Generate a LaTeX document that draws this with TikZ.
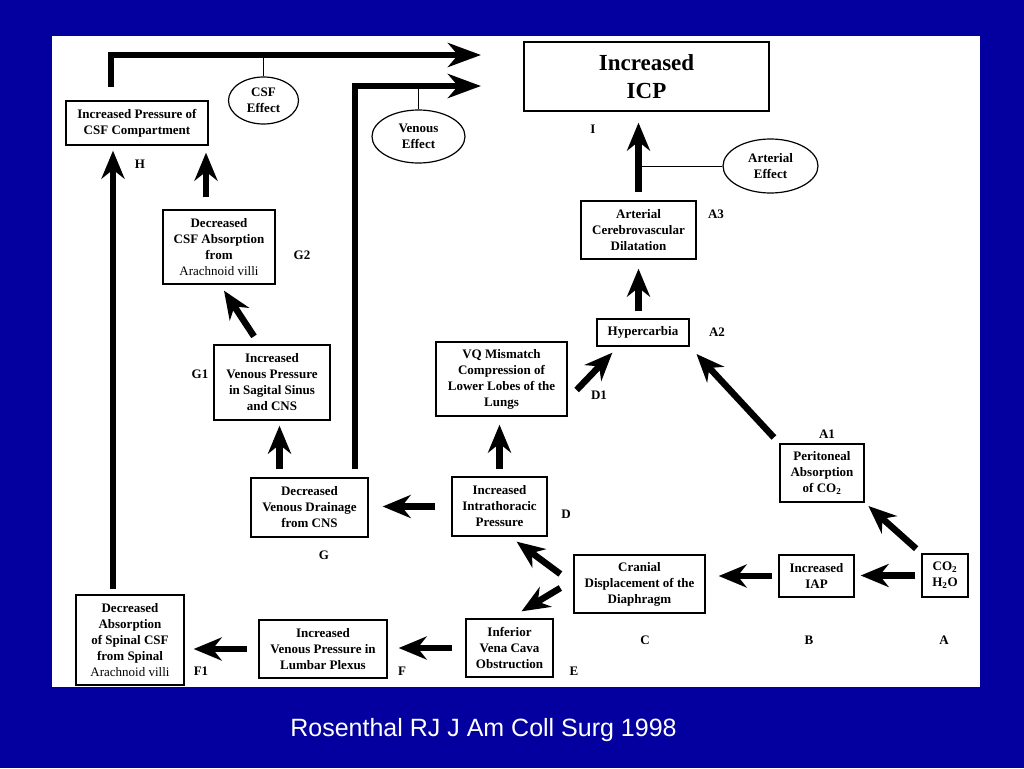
\documentclass[tikz,border=0pt]{standalone}
\usepackage{fontspec}
\setmainfont{Liberation Serif}
\newfontfamily\capfont{Liberation Sans}
\usetikzlibrary{arrows.meta,shapes.geometric}
\definecolor{slideblue}{RGB}{4,0,160}
\tikzset{
  box/.style={draw, line width=1.3pt, align=center, inner sep=2pt, font=\bfseries\fontsize{13}{16}\selectfont},
  effect/.style={draw, ellipse, line width=1.2pt, align=center, inner sep=1pt, font=\bfseries\fontsize{13}{16}\selectfont},
  tag/.style={font=\bfseries\fontsize{13}{16}\selectfont},
  fat/.style={line width=6.5pt, -{Stealth[length=28pt,width=23pt,inset=9pt]}},
  longfat/.style={line width=6.5pt, -{Stealth[length=33pt,width=24pt,inset=10pt]}},
}
\begin{document}
\begin{tikzpicture}[x=1pt,y=-1pt]
  % slide and white panel
  \fill[slideblue] (0,0) rectangle (1024,768);
  \fill[white] (52,36) rectangle (980,687);

  % boxes
  \node[box, minimum width=245pt, minimum height=69pt, font=\bfseries\fontsize{23}{28}\selectfont] (I) at (646.5,76.5) {Increased\\ICP};
  \node[box, minimum width=142pt, minimum height=44pt] (H) at (137,123) {Increased Pressure of\\CSF Compartment};
  \node[box, minimum width=112pt, minimum height=74pt] (G2) at (219,247) {Decreased\\CSF Absorption\\from\\\mdseries Arachnoid villi};
  \node[box, minimum width=116pt, minimum height=75pt] (G1) at (272,382.5) {Increased\\Venous Pressure\\in Sagital Sinus\\and CNS};
  \node[box, minimum width=117pt, minimum height=59pt] (G) at (309.5,507.5) {Decreased\\Venous Drainage\\from CNS};
  \node[box, minimum width=95pt, minimum height=59pt] (D) at (499.5,506.5) {Increased\\Intrathoracic\\Pressure};
  \node[box, minimum width=131pt, minimum height=74pt] (VQ) at (501.5,379) {VQ Mismatch\\Compression of\\Lower Lobes of the\\Lungs};
  \node[box, minimum width=92pt, minimum height=27pt] (hyper) at (643,332.5) {Hypercarbia};
  \node[box, minimum width=115pt, minimum height=58pt] (A3) at (638.5,230) {Arterial\\Cerebrovascular\\Dilatation};
  \node[box, minimum width=84pt, minimum height=58pt] (A1) at (822,473) {Peritoneal\\Absorption\\of CO\textsubscript{2}};
  \node[box, minimum width=46pt, minimum height=43pt, inner sep=1pt] (A) at (945,575.5) {CO\textsubscript{2}\\H\textsubscript{2}O};
  \node[box, minimum width=75pt, minimum height=42pt] (B) at (816.5,576) {Increased\\IAP};
  \node[box, minimum width=131pt, minimum height=58pt] (C) at (639.5,584) {Cranial\\Displacement of the\\Diaphragm};
  \node[box, minimum width=87pt, minimum height=58pt] (E) at (509.5,648) {Inferior\\Vena Cava\\Obstruction};
  \node[box, minimum width=128pt, minimum height=58pt] (F) at (323,649) {Increased\\Venous Pressure in\\Lumbar Plexus};
  \node[box, minimum width=108pt, minimum height=90pt] (F1) at (130,640) {Decreased\\Absorption\\of Spinal CSF\\from Spinal\\\mdseries Arachnoid villi};

  % effect ellipses
  \node[effect, minimum width=70pt, minimum height=47pt] (csf) at (263.5,100.5) {CSF\\Effect};
  \node[effect, minimum width=93pt, minimum height=53pt] (ven) at (418.5,136.5) {Venous\\Effect};
  \node[effect, minimum width=95pt, minimum height=54pt] (art) at (770.5,166) {Arterial\\Effect};

  % step letters
  \node[tag] (tI) at (593,129) {I};
  \node[tag] (tH) at (140,164) {H};
  \node[tag] (tG2) at (302,255) {G2};
  \node[tag] (tG1) at (200,374) {G1};
  \node[tag] (tG) at (324,555) {G};
  \node[tag] (tD) at (566,514) {D};
  \node[tag] (tD1) at (599,395) {D1};
  \node[tag] (tA2) at (717,332) {A2};
  \node[tag] (tA3) at (716,214) {A3};
  \node[tag] (tA1) at (827,434) {A1};
  \node[tag] (tA) at (944,640) {A};
  \node[tag] (tB) at (809,640) {B};
  \node[tag] (tC) at (645,640) {C};
  \node[tag] (tE) at (574,671) {E};
  \node[tag] (tF) at (402,671) {F};
  \node[tag] (tF1) at (201,671) {F1};

  % long arrows into ICP
  \coordinate (csftip) at (481,55);
  \coordinate (ventip) at (481,86);
  \draw[longfat, shorten <=13pt] ([xshift=-26pt]H.north) |- (csftip);
  \draw[longfat, shorten <=8pt] ([xshift=45.5pt]G.north) |- (ventip);
  \draw[line width=1pt] (csf.north) -- (csf.north |- csftip);
  \draw[line width=1pt] (ven.north) -- (ven.north |- ventip);
  \draw[line width=1pt] (art.west) -- (art.west -| A3.north);

  % arterial branch
  \draw[fat, shorten <=6pt, shorten >=6pt] (A.west) -- (A.west -| B.east);
  \draw[fat, shorten <=7pt, shorten >=5pt] (A.north west) -- (A1.south east);
  \draw[fat, shorten <=8pt, shorten >=10pt] (A1.north west) -- (hyper.south east);
  \draw[fat, shorten <=7pt, shorten >=9pt] (A3.south |- hyper.north) -- (A3.south);
  \draw[fat, shorten <=8pt, shorten >=11pt] (A3.north) -- (A3.north |- I.south);

  % thoracic branch
  \draw[fat, shorten <=6pt, shorten >=13pt] (B.west) -- (B.west -| C.east);
  \draw[fat] ([xshift=-13pt,yshift=10pt]C.west) -- ([xshift=-31pt,yshift=-5pt]D.south east);
  \draw[fat] ([xshift=-13pt,yshift=-4pt]C.west) -- ([xshift=12pt,yshift=7pt]E.north);
  \draw[fat, shorten <=7pt, shorten >=8pt] (D.north) -- (D.north |- VQ.south);
  \draw[fat] ([xshift=9pt,yshift=-11pt]VQ.east) -- ([xshift=16pt,yshift=-6pt]hyper.south west);
  \draw[fat, shorten <=16pt, shorten >=14pt] (D.west) -- (D.west -| G.east);

  % venous branch
  \draw[fat, shorten <=8pt, shorten >=5pt] ([xshift=-30pt]G.north) -- ([xshift=-30pt]G.north |- G1.south);
  \draw[fat] ([xshift=-18pt,yshift=8pt]G1.north) -- ([xshift=5pt,yshift=-6pt]G2.south);
  \draw[fat, shorten <=12pt, shorten >=7pt] ([xshift=-13pt]G2.north) -- ([xshift=-13pt]G2.north |- H.south);

  % spinal branch
  \draw[fat, shorten <=13pt, shorten >=11pt] (E.west) -- (E.west -| F.east);
  \draw[fat, shorten <=11pt, shorten >=9pt] (F.west) -- (F.west -| F1.east);
  \draw[fat, shorten <=5pt, shorten >=5pt] ([xshift=-17pt]F1.north) -- ([xshift=-17pt]F1.north |- H.south);

  % source
  \node[text=white, font=\capfont\fontsize{25}{30}\selectfont] (cite) at (483.5,730) {Rosenthal RJ J Am Coll Surg 1998};
\end{tikzpicture}
\end{document}
